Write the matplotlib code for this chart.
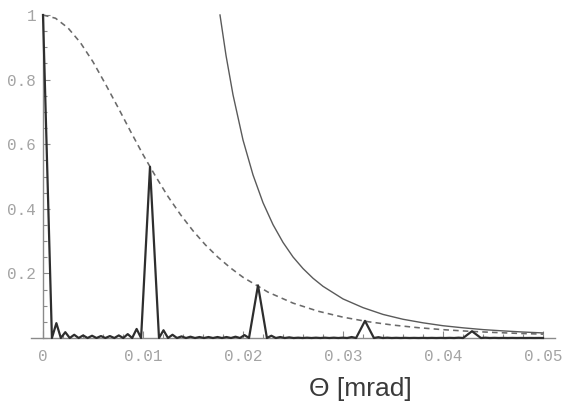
import matplotlib
matplotlib.use("Agg")
import matplotlib.pyplot as plt
from matplotlib.ticker import FixedLocator, MultipleLocator

# Principal maxima of the multi-slit diffraction pattern
peak_theta = [0.0, 0.0107, 0.0215, 0.0322, 0.0429]
peak_height = [1.0, 0.53, 0.163, 0.053, 0.021]

# Secondary maxima between successive principal maxima
side_lobes = [
    [0.046, 0.018, 0.010, 0.008, 0.007, 0.006, 0.006, 0.008, 0.012, 0.028],
    [0.024, 0.010, 0.005, 0.004, 0.003, 0.003, 0.003, 0.003, 0.004, 0.009],
    [0.007, 0.003, 0.002, 0.001, 0.001, 0.001, 0.001, 0.001, 0.001, 0.003],
    [0.0025, 0.001, 0.0006, 0.0005, 0.0004, 0.0004, 0.0004, 0.0004, 0.0005, 0.001],
]
# Secondary maxima after the last principal maximum, up to the plot edge
tail_lobes = [0.001, 0.0005, 0.0003, 0.0003, 0.0002, 0.0002, 0.0002]
theta_end = 0.05

# Single-slit envelope (dashed)
env_theta = [0.0, 0.00125, 0.0025, 0.00375, 0.005, 0.00625, 0.0075, 0.00875,
             0.01, 0.01125, 0.0125, 0.01375, 0.015, 0.01625, 0.0175, 0.01875,
             0.02, 0.0225, 0.025, 0.0275, 0.03, 0.0325, 0.035, 0.0375,
             0.04, 0.0425, 0.045, 0.0475, 0.05]
env_value = [1.0, 0.990, 0.960, 0.914, 0.855, 0.786, 0.714, 0.640,
             0.568, 0.501, 0.438, 0.382, 0.332, 0.288, 0.250, 0.217,
             0.188, 0.142, 0.108, 0.083, 0.0645, 0.0505, 0.040, 0.032,
             0.0258, 0.021, 0.0173, 0.0143, 0.0119]

# Large-angle asymptote of the envelope (thin solid)
asym_theta = [0.0177, 0.0183, 0.019, 0.020, 0.021, 0.022, 0.023, 0.024,
              0.025, 0.026, 0.027, 0.028, 0.030, 0.032, 0.034, 0.036,
              0.038, 0.040, 0.042, 0.044, 0.046, 0.048, 0.050]
asym_value = [1.0, 0.875, 0.753, 0.613, 0.505, 0.419, 0.351, 0.296,
              0.251, 0.215, 0.185, 0.160, 0.121, 0.094, 0.073, 0.058,
              0.047, 0.038, 0.0315, 0.026, 0.022, 0.0185, 0.0157]

x_ticks = [0.0, 0.01, 0.02, 0.03, 0.04, 0.05]
x_tick_labels = ["0", "0.01", "0.02", "0.03", "0.04", "0.05"]
y_ticks = [0.2, 0.4, 0.6, 0.8, 1.0]
y_tick_labels = ["0.2", "0.4", "0.6", "0.8", "1"]
x_label = "\u0398 [mrad]"

# Build the vertex list of the intensity curve: each gap between two
# principal maxima holds len(lobes)+1 equally spaced minima.
pat_x, pat_y = [peak_theta[0]], [peak_height[0]]
for k, lobes in enumerate(side_lobes):
    start, stop = peak_theta[k], peak_theta[k + 1]
    n = len(lobes) + 2
    step = (stop - start) / n
    for j in range(1, n):
        pat_x.append(start + j * step)
        pat_y.append(0.0)
        if j <= len(lobes):
            pat_x.append(start + (j + 0.5) * step)
            pat_y.append(lobes[j - 1])
    pat_x.append(stop)
    pat_y.append(peak_height[k + 1])

step = (peak_theta[-1] - peak_theta[-2]) / (len(side_lobes[-1]) + 2)
for j, h in enumerate(tail_lobes, start=1):
    z = peak_theta[-1] + j * step
    m = peak_theta[-1] + (j + 0.5) * step
    if z < theta_end:
        pat_x.append(z)
        pat_y.append(0.0)
    if m < theta_end:
        pat_x.append(m)
        pat_y.append(h)
pat_x.append(theta_end)
pat_y.append(0.0)

W, H = 564, 403
fig = plt.figure(figsize=(W / 100, H / 100), dpi=100)
ax = fig.add_axes([31 / W, (H - 342) / H, 524 / W, 330 / H])
ax.set_xlim(-0.0012, 0.0512)
ax.set_ylim(-4 / 323, 1 + 3 / 323)

ax.plot(env_theta, env_value, color="#6a6a6a", lw=1.15,
        dashes=(3.5, 2.6), zorder=2)
ax.plot(asym_theta, asym_value, color="#5a5a5a", lw=1.0, zorder=2)
ax.plot(pat_x, pat_y, color="#2e2e2e", lw=1.6, solid_joinstyle="round",
        zorder=3)

for side in ("top", "right"):
    ax.spines[side].set_visible(False)
ax.spines["left"].set_position(("data", 0))
ax.spines["left"].set_bounds(0, 1)
ax.spines["bottom"].set_position(("data", 0))
for side in ("left", "bottom"):
    ax.spines[side].set_color("#8a8a8a")
    ax.spines[side].set_linewidth(1.0)

ax.xaxis.set_major_locator(FixedLocator(x_ticks))
ax.set_xticklabels(x_tick_labels)
ax.xaxis.set_minor_locator(MultipleLocator(0.002))
ax.yaxis.set_major_locator(FixedLocator(y_ticks))
ax.set_yticklabels(y_tick_labels)
ax.yaxis.set_minor_locator(MultipleLocator(0.05))

ax.tick_params(which="both", direction="in", color="#8a8a8a", width=0.8,
               labelcolor="#a4a4a4")
ax.tick_params(which="major", length=5)
ax.tick_params(which="minor", length=3)
ax.tick_params(axis="x", which="major", pad=8)
ax.tick_params(axis="y", which="major", pad=5)
for lab in ax.get_xticklabels() + ax.get_yticklabels():
    lab.set_fontfamily("Liberation Mono")
    lab.set_fontsize(11.5)

fig.text(360 / W, 1 - 389 / H, x_label, ha="center", va="center",
         fontfamily="Liberation Sans", fontsize=19, color="#3a3a3a")

fig.savefig("out.png", dpi=100, facecolor="white")
